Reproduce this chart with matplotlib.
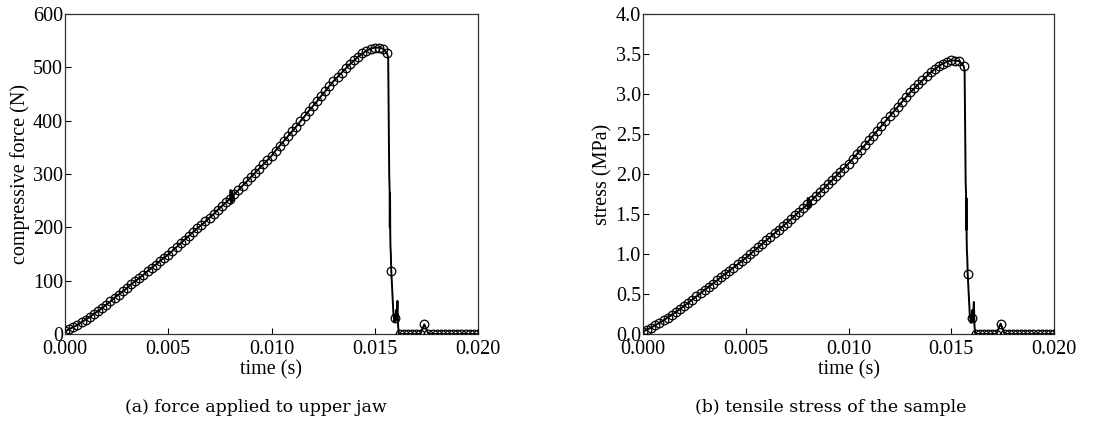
import matplotlib
matplotlib.use("Agg")
import matplotlib.pyplot as plt
from matplotlib.ticker import FormatStrFormatter

# Sampled time axis (s) for the loading phase, 0.2 ms step up to 15.6 ms
t_load = [round(0.0002 * i, 4) for i in range(79)]

# Compressive force on the upper jaw (N) during loading
force_load = [
    5, 9, 13, 17, 22, 27, 32, 38, 43, 49,
    55, 61, 68, 74, 80, 86, 93, 99, 105, 111,
    118, 124, 130, 137, 143, 149, 156, 163, 170, 177,
    184, 191, 198, 204, 211, 218, 225, 233, 240, 247,
    254, 262, 270, 278, 286, 294, 302, 310, 318, 326,
    334, 344, 353, 362, 371, 380, 389, 399, 408, 418,
    427, 436, 446, 455, 465, 474, 482, 490, 498, 506,
    513, 520, 526, 531, 535, 537, 537, 535, 526,
]

# Tensile stress in the sample (MPa) during loading
stress_load = [
    0.030, 0.055, 0.080, 0.110, 0.140, 0.170, 0.205, 0.240, 0.275, 0.312,
    0.350, 0.390, 0.430, 0.470, 0.510, 0.550, 0.590, 0.630, 0.670, 0.710,
    0.750, 0.790, 0.830, 0.870, 0.910, 0.950, 0.994, 1.038, 1.082, 1.126,
    1.170, 1.214, 1.258, 1.302, 1.346, 1.390, 1.436, 1.482, 1.528, 1.574,
    1.620, 1.670, 1.720, 1.770, 1.820, 1.870, 1.922, 1.974, 2.026, 2.078,
    2.130, 2.188, 2.246, 2.304, 2.362, 2.420, 2.480, 2.540, 2.600, 2.660,
    2.720, 2.780, 2.840, 2.900, 2.960, 3.020, 3.070, 3.120, 3.170, 3.220,
    3.270, 3.310, 3.350, 3.380, 3.405, 3.420, 3.418, 3.410, 3.350,
]

# Short ringing recorded around t = 8 ms
t_ring = [0.00800, 0.00802, 0.00804, 0.00806, 0.00808, 0.00810, 0.00812, 0.00815]
force_ring = [254, 270, 244, 268, 246, 266, 250, 258]
stress_ring = [1.620, 1.700, 1.560, 1.690, 1.570, 1.680, 1.590, 1.645]

# Fracture: rapid unloading and oscillation (fine sampling)
t_break = [0.01565, 0.01570, 0.01572, 0.01573, 0.01574, 0.01575, 0.01576,
           0.01578, 0.01585, 0.01590, 0.01595, 0.01603, 0.01606, 0.01610,
           0.01613, 0.01617]
force_break = [518, 300, 270, 200, 265, 190, 165, 150, 80, 40, 22, 45, 25,
               62, 15, 0]
stress_break = [3.30, 1.90, 1.75, 1.30, 1.70, 1.20, 1.05, 0.95, 0.50, 0.25,
                0.14, 0.30, 0.16, 0.40, 0.10, 0.00]

# Marked samples during fracture
t_frac = [0.0158, 0.0160]
force_frac = [118, 30]
stress_frac = [0.75, 0.20]

# After fracture: sample separated, one small contact blip near 17.4 ms
t_after = [round(0.0162 + 0.0002 * i, 4) for i in range(20)]
force_after = [0, 0, 0, 0, 0, 0, 18, 0, 0, 0,
               0, 0, 0, 0, 0, 0, 0, 0, 0, 0]
stress_after = [0.0, 0.0, 0.0, 0.0, 0.0, 0.0, 0.13, 0.0, 0.0, 0.0,
                0.0, 0.0, 0.0, 0.0, 0.0, 0.0, 0.0, 0.0, 0.0, 0.0]

x_ticks = [0.000, 0.005, 0.010, 0.015, 0.020]
force_ticks = [0, 100, 200, 300, 400, 500, 600]
stress_ticks = [0.0, 0.5, 1.0, 1.5, 2.0, 2.5, 3.0, 3.5, 4.0]

plt.rcParams["font.family"] = ["Liberation Serif", "DejaVu Serif"]

W, H = 1104, 438
fig = plt.figure(figsize=(W / 100, H / 100), dpi=100)


def merged(*pairs):
    pts = []
    for t, y in pairs:
        pts += list(zip(t, y))
    pts.sort(key=lambda p: p[0])
    return [p[0] for p in pts], [p[1] for p in pts]


def panel(rect, y_main, y_ring, y_break, y_frac, y_after, yticks, yfmt,
          ylabel, caption, cap_x):
    ax = fig.add_axes(rect)
    tl, yl = merged((t_load, y_main), (t_ring, y_ring), (t_break, y_break),
                    (t_frac, y_frac), (t_after, y_after))
    ax.plot(tl, yl, color="black", lw=1.4, zorder=2)
    tm, ym = merged((t_load, y_main), (t_frac, y_frac), (t_after, y_after))
    ax.plot(tm, ym, ls="none", marker="o", ms=6.2, mfc="none", mec="black",
            mew=0.9, zorder=3)
    ax.set_xlim(0, 0.020)
    ax.set_ylim(yticks[0], yticks[-1])
    ax.set_xticks(x_ticks)
    ax.set_yticks(yticks)
    ax.xaxis.set_major_formatter(FormatStrFormatter("%.3f"))
    ax.yaxis.set_major_formatter(FormatStrFormatter(yfmt))
    ax.tick_params(direction="in", length=4, width=0.8, labelsize=14.5,
                   top=False, right=False, pad=1.5)
    ax.tick_params(axis="x", pad=4)
    for s in ax.spines.values():
        s.set_linewidth(0.9)
        s.set_color("#333333")
    ax.set_xlabel("time (s)", fontsize=14.5, labelpad=1)
    ax.set_ylabel(ylabel, fontsize=14.5, labelpad=2)
    fig.text(cap_x, 1 - 407 / H, caption, ha="center", va="center",
             fontsize=12.5, family=["DejaVu Serif"])
    return ax


panel([65 / W, 1 - 334 / H, 413 / W, 320 / H], force_load, force_ring,
      force_break, force_frac, force_after, force_ticks, "%d",
      "compressive force (N)", "(a) force applied to upper jaw", 256 / W)
panel([643 / W, 1 - 334 / H, 411 / W, 320 / H], stress_load, stress_ring,
      stress_break, stress_frac, stress_after, stress_ticks, "%.1f",
      "stress (MPa)", "(b) tensile stress of the sample", 831 / W)

fig.savefig("out.png", dpi=100)
